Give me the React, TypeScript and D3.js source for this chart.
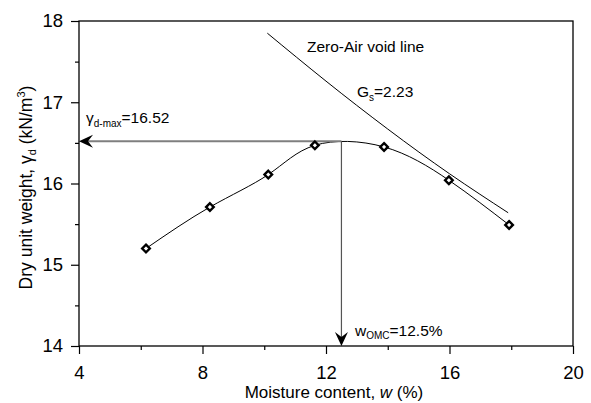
import React, { useEffect, useRef } from 'react'
import * as d3 from 'd3'

// compaction test points
const moisture = [6.17, 8.24, 10.13, 11.64, 13.88, 15.98, 17.93]
const dryWeight = [15.2, 15.71, 16.11, 16.47, 16.45, 16.04, 15.49]

// zero-air void line (Gs = 2.23)
const zavMoisture = [10.1, 12, 14, 16, 17.9]
const zavWeight = [17.85, 17.26, 16.67, 16.12, 15.64]

const xMajor = [4, 8, 12, 16, 20]
const xMinor = [6, 10, 14, 18]
const yMajor = [14, 15, 16, 17, 18]
const yMinor = [14.5, 15.5, 16.5, 17.5]

const optMoisture = 12.5
const maxDryWeight = 16.52

const App = () => {
	const ref = useRef<SVGSVGElement>(null)

	const width = 591
	const height = 403
	const marginLeft = 79
	const marginRight = 18
	const marginTop = 21
	const marginBottom = 57
	const font = 'Liberation Sans, Arial, sans-serif'

	useEffect(() => {
		if (!ref.current) return
		const svg = d3.select(ref.current)
		svg.selectAll('*').remove()

		const x = d3
			.scaleLinear()
			.domain([4, 20])
			.range([marginLeft, width - marginRight])
		const y = d3
			.scaleLinear()
			.domain([14, 18])
			.range([height - marginBottom, marginTop])

		const x0 = x.range()[0]
		const x1 = x.range()[1]
		const y0 = y.range()[0]
		const y1 = y.range()[1]

		// frame
		svg
			.append('rect')
			.attr('x', x0)
			.attr('y', y1)
			.attr('width', x1 - x0)
			.attr('height', y0 - y1)
			.attr('fill', 'none')
			.attr('stroke', '#000')
			.attr('stroke-width', 1.3)

		// x axis
		const gx = svg.append('g').attr('transform', `translate(0,${y0})`)
		gx.call(
			d3
				.axisBottom(x)
				.tickValues(xMajor)
				.tickSize(8)
				.tickFormat(d3.format('d'))
		)
		gx.append('g').call(
			d3.axisBottom(x).tickValues(xMinor).tickSize(4).tickFormat(() => '')
		)
		gx.selectAll('.domain').remove()
		gx.selectAll('text')
			.attr('font-size', 18.5)
			.attr('font-family', font)
			.attr('fill', '#000')
			.attr('dy', 22)
		gx.selectAll('line').attr('stroke-width', 1.2)

		// y axis
		const gy = svg.append('g').attr('transform', `translate(${x0},0)`)
		gy.call(
			d3
				.axisLeft(y)
				.tickValues(yMajor)
				.tickSize(8)
				.tickFormat(d3.format('d'))
		)
		gy.append('g').call(
			d3.axisLeft(y).tickValues(yMinor).tickSize(4).tickFormat(() => '')
		)
		gy.selectAll('.domain').remove()
		gy.selectAll('text')
			.attr('font-size', 18.5)
			.attr('font-family', font)
			.attr('fill', '#000')
			.attr('x', -16)
		gy.selectAll('line').attr('stroke-width', 1.2)

		// axis titles
		const xt = svg
			.append('text')
			.attr('x', (x0 + x1) / 2 + 8)
			.attr('y', 398)
			.attr('text-anchor', 'middle')
			.attr('font-family', font)
			.attr('font-size', 17)
		xt.append('tspan').text('Moisture content, ')
		xt.append('tspan').attr('font-style', 'italic').text('w')
		xt.append('tspan').text(' (%)')

		const yt = svg
			.append('text')
			.attr('transform', `translate(32,${(y0 + y1) / 2 + 4}) rotate(-90)`)
			.attr('text-anchor', 'middle')
			.attr('font-family', font)
			.attr('font-size', 17.5)
		yt.append('tspan').text('Dry unit weight, γ')
		yt.append('tspan').attr('font-size', 11).attr('dy', 4).text('d')
		yt.append('tspan').attr('dy', -4).text(' (kN/m')
		yt.append('tspan').attr('font-size', 11).attr('dy', -7).text('3')
		yt.append('tspan').attr('dy', 7).text(')')

		// zero-air void line
		svg
			.append('path')
			.datum(zavMoisture.map((w, i) => [x(w), y(zavWeight[i])]))
			.attr('fill', 'none')
			.attr('stroke', '#000')
			.attr('stroke-width', 1)
			.attr('d', d3.line().curve(d3.curveNatural))

		// compaction curve
		const pts = moisture.map((w, i) => [x(w), y(dryWeight[i])])
		svg
			.append('path')
			.datum(pts)
			.attr('fill', 'none')
			.attr('stroke', '#000')
			.attr('stroke-width', 1)
			.attr('d', d3.line().curve(d3.curveNatural))

		// arrows to max dry weight and OMC
		const px = x(optMoisture)
		const py = y(maxDryWeight)
		svg
			.append('line')
			.attr('x1', px)
			.attr('y1', py)
			.attr('x2', x0 + 4)
			.attr('y2', py)
			.attr('stroke', '#7f7f7f')
			.attr('stroke-width', 1.8)
		svg
			.append('line')
			.attr('x1', px)
			.attr('y1', py)
			.attr('x2', px)
			.attr('y2', y0 - 4)
			.attr('stroke', '#555')
			.attr('stroke-width', 1.2)

		const head = 'M0,0 L14,-6.5 L9,0 L14,6.5 Z'
		svg
			.append('path')
			.attr('d', head)
			.attr('transform', `translate(${x0},${py})`)
			.attr('fill', '#000')
		svg
			.append('path')
			.attr('d', head)
			.attr('transform', `translate(${px},${y0}) rotate(-90)`)
			.attr('fill', '#000')

		// markers
		svg
			.append('g')
			.selectAll('path')
			.data(pts)
			.join('path')
			.attr('transform', d => `translate(${d[0]},${d[1]})`)
			.attr('d', 'M0,-3.8 L3.8,0 L0,3.8 L-3.8,0 Z')
			.attr('fill', '#fff')
			.attr('stroke', '#000')
			.attr('stroke-width', 2.4)

		// annotations
		svg
			.append('text')
			.attr('x', 307)
			.attr('y', 52)
			.attr('font-family', font)
			.attr('font-size', 15.5)
			.text('Zero-Air void line')

		const gs = svg
			.append('text')
			.attr('x', 357)
			.attr('y', 97)
			.attr('font-family', font)
			.attr('font-size', 15.5)
		gs.append('tspan').text('G')
		gs.append('tspan').attr('font-size', 10).attr('dy', 4).text('s')
		gs.append('tspan').attr('dy', -4).text('=2.23')

		const gm = svg
			.append('text')
			.attr('x', 86)
			.attr('y', 123)
			.attr('font-family', font)
			.attr('font-size', 15.5)
		gm.append('tspan').text('γ')
		gm.append('tspan').attr('font-size', 10).attr('dy', 4).text('d-max')
		gm.append('tspan').attr('dy', -4).text('=16.52')

		const wo = svg
			.append('text')
			.attr('x', 355)
			.attr('y', 336)
			.attr('font-family', font)
			.attr('font-size', 15.5)
		wo.append('tspan').text('w')
		wo.append('tspan').attr('font-size', 10).attr('dy', 3).text('OMC')
		wo.append('tspan').attr('dy', -3).text('=12.5%')
	}, [])

	return (
		<svg
			ref={ref}
			width={width}
			height={height}
			style={{ position: 'absolute', left: 0, top: 0, background: '#fff' }}
		></svg>
	)
}

export default App
